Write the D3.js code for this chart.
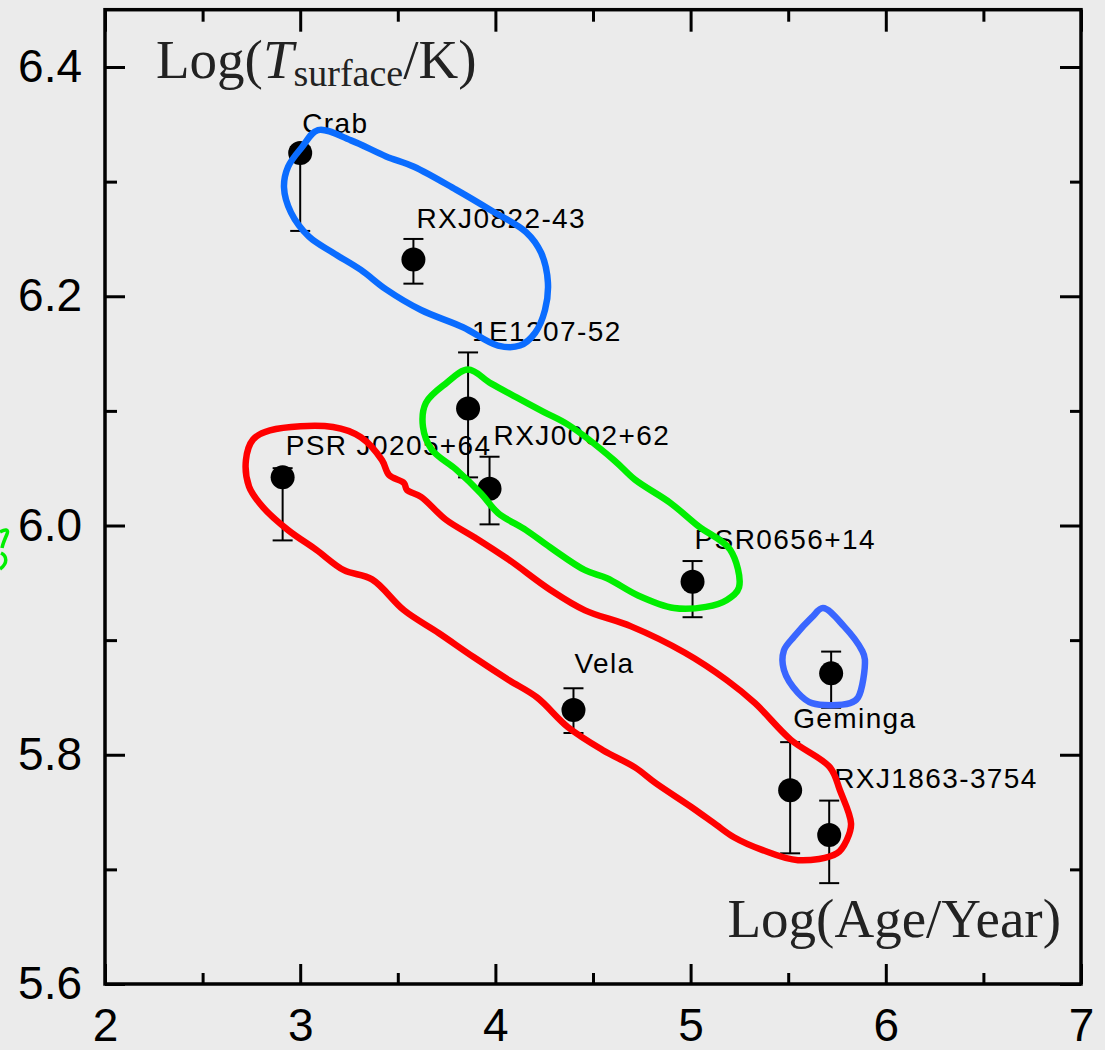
<!DOCTYPE html>
<html>
<head>
<meta charset="utf-8">
<script src="https://cdn.jsdelivr.net/npm/d3@7"></script>
<style>
  body { margin: 0; background: #ebebeb; }
  svg { display: block; }
  .tick text { font-family: "Liberation Sans", Arial, sans-serif; font-size: 46px; fill: #000; }
  .tick line { stroke-width: 3; }
  .src-label { font-family: "Liberation Sans", Arial, sans-serif; font-size: 28px; letter-spacing: 1.4px; fill: #000; }
  .axis-title { font-family: "Liberation Serif", "Times New Roman", serif; font-size: 55px; fill: #222; }
</style>
</head>
<body>
<div id="chart"></div>
<script>
// pulsar data: log age (yr), log surface temperature (K) with error range
var names = ["Crab", "RXJ0822-43", "1E1207-52", "PSR J0205+64", "RXJ0002+62",
  "PSR0656+14", "Vela", "Geminga", "", "RXJ1863-3754"];
var logAge = [3.00, 3.58, 3.86, 2.91, 3.97, 5.01, 4.40, 5.72, 5.51, 5.71];
var logT = [6.325, 6.232, 6.102, 6.042, 6.032, 5.951, 5.839, 5.871, 5.769, 5.730];
var errLow = [6.257, 6.211, 6.042, 5.987, 6.001, 5.920, 5.819, 5.841, 5.714, 5.688];
var errHigh = [6.330, 6.250, 6.151, 6.050, 6.060, 5.969, 5.858, 5.890, 5.811, 5.760];

// tick values
var xMajor = [2, 3, 4, 5, 6, 7];
var xMinor = [2.5, 3.5, 4.5, 5.5, 6.5];
var yMajor = [5.6, 5.8, 6.0, 6.2, 6.4];
var yMinor = [5.7, 5.9, 6.1, 6.3];

// hand drawn loops, [logAge, logT]
var blueLoop = [[3.091, 6.345], [3.260, 6.336], [3.440, 6.322], [3.583, 6.313], [3.798, 6.293],
  [3.977, 6.275], [4.157, 6.256], [4.234, 6.238], [4.269, 6.212], [4.254, 6.188], [4.203, 6.168],
  [4.126, 6.157], [4.013, 6.157], [3.834, 6.173], [3.619, 6.188], [3.440, 6.206], [3.311, 6.223],
  [3.168, 6.238], [3.045, 6.252], [2.953, 6.273], [2.917, 6.295], [2.938, 6.313], [3.009, 6.330]];
var greenLoop = [[3.860, 6.136], [3.977, 6.124], [4.106, 6.112], [4.249, 6.099], [4.372, 6.088],
  [4.608, 6.057], [4.715, 6.040], [4.894, 6.020], [5.043, 5.999], [5.202, 5.979], [5.248, 5.946],
  [5.186, 5.935], [5.079, 5.929], [4.915, 5.928], [4.731, 5.939], [4.572, 5.954], [4.459, 5.961],
  [4.280, 5.981], [4.157, 5.996], [4.013, 6.011], [3.926, 6.028], [3.798, 6.049], [3.675, 6.066],
  [3.629, 6.086], [3.644, 6.107], [3.747, 6.124]];
var redLoop = [[2.845, 6.083], [3.168, 6.086], [3.311, 6.077], [3.419, 6.057], [3.455, 6.044],
  [3.532, 6.037], [3.547, 6.031], [3.619, 6.025], [3.747, 6.005], [3.890, 5.990], [4.070, 5.970],
  [4.280, 5.944], [4.459, 5.926], [4.695, 5.912], [4.971, 5.889], [5.186, 5.865], [5.330, 5.845],
  [5.514, 5.813], [5.714, 5.789], [5.765, 5.769], [5.822, 5.740], [5.801, 5.726], [5.750, 5.714],
  [5.550, 5.708], [5.366, 5.717], [5.222, 5.728], [5.130, 5.739], [5.007, 5.754], [4.823, 5.775],
  [4.715, 5.789], [4.551, 5.804], [4.372, 5.824], [4.213, 5.850], [4.070, 5.865], [3.890, 5.885],
  [3.711, 5.906], [3.532, 5.926], [3.368, 5.953], [3.224, 5.961], [3.081, 5.979], [2.938, 5.996],
  [2.809, 6.016], [2.738, 6.034], [2.722, 6.057], [2.758, 6.075]];
var gemingaLoop = [[5.678, 5.928], [5.786, 5.912], [5.878, 5.891], [5.893, 5.883], [5.858, 5.850],
  [5.817, 5.845], [5.622, 5.845], [5.550, 5.854], [5.478, 5.874], [5.478, 5.891], [5.530, 5.903],
  [5.622, 5.920]];

// label placement (pixels from the point)
var labelOffsets = [[2, -20], [3, -32], [4, -68], [3, -22], [4, -44],
  [2, -33], [1, -37], [-38, 55], [0, 0], [5, -47]];

var svgWidth = 1105;
var svgHeight = 1050;

var margin = { top: 9.7, right: 24, bottom: 66, left: 105 };
var width = svgWidth - margin.left - margin.right;
var height = svgHeight - margin.top - margin.bottom;

var svg = d3.select("#chart")
  .append("svg")
  .attr("width", svgWidth)
  .attr("height", svgHeight);

svg.append("rect")
  .attr("width", svgWidth)
  .attr("height", svgHeight)
  .attr("fill", "#ebebeb");

var chartGroup = svg.append("g")
  .attr("transform", `translate(${margin.left}, ${margin.top})`);

var xScale = d3.scaleLinear().domain([2, 7]).range([0, width]);
var yScale = d3.scaleLinear().domain([5.6, 6.45]).range([height, 0]);

function cleanAxis(g) {
  g.select(".domain").remove();
  g.selectAll(".tick line").attr("stroke", "#000").attr("stroke-width", 3);
}

// bottom axis
chartGroup.append("g")
  .attr("transform", `translate(0, ${height})`)
  .call(d3.axisBottom(xScale).tickValues(xMajor).tickSizeInner(-20).tickSizeOuter(0)
    .tickPadding(24).tickFormat(d3.format("d")))
  .call(cleanAxis);
chartGroup.append("g")
  .attr("transform", `translate(0, ${height})`)
  .call(d3.axisBottom(xScale).tickValues(xMinor).tickSizeInner(-11).tickSizeOuter(0).tickFormat(""))
  .call(cleanAxis);

// top axis
chartGroup.append("g")
  .call(d3.axisTop(xScale).tickValues(xMajor).tickSizeInner(-22).tickSizeOuter(0).tickFormat(""))
  .call(cleanAxis);
chartGroup.append("g")
  .call(d3.axisTop(xScale).tickValues(xMinor).tickSizeInner(-12).tickSizeOuter(0).tickFormat(""))
  .call(cleanAxis);

// left axis
chartGroup.append("g")
  .call(d3.axisLeft(yScale).tickValues(yMajor).tickSizeInner(-20).tickSizeOuter(0)
    .tickPadding(23).tickFormat(d3.format(".1f")))
  .call(cleanAxis);
chartGroup.append("g")
  .call(d3.axisLeft(yScale).tickValues(yMinor).tickSizeInner(-12).tickSizeOuter(0).tickFormat(""))
  .call(cleanAxis);

// right axis
chartGroup.append("g")
  .attr("transform", `translate(${width}, 0)`)
  .call(d3.axisRight(yScale).tickValues(yMajor).tickSizeInner(-21).tickSizeOuter(0).tickFormat(""))
  .call(cleanAxis);
chartGroup.append("g")
  .attr("transform", `translate(${width}, 0)`)
  .call(d3.axisRight(yScale).tickValues(yMinor).tickSizeInner(-11).tickSizeOuter(0).tickFormat(""))
  .call(cleanAxis);

// frame
chartGroup.append("rect")
  .attr("width", width)
  .attr("height", height)
  .attr("fill", "none")
  .attr("stroke", "#000")
  .attr("stroke-width", 3.5);

// axis titles
var yTitle = chartGroup.append("text")
  .attr("class", "axis-title")
  .attr("x", 51)
  .attr("y", 68);
yTitle.append("tspan").text("Log(");
yTitle.append("tspan").attr("font-style", "italic").text("T");
yTitle.append("tspan").attr("font-size", "38px").attr("dy", 8).text("surface");
yTitle.append("tspan").attr("dy", -8).text("/K)");

chartGroup.append("text")
  .attr("class", "axis-title")
  .attr("x", width - 20)
  .attr("y", 927)
  .attr("text-anchor", "end")
  .text("Log(Age/Year)");

var pulsars = names.map(function(n, i) {
  return { name: n, age: logAge[i], t: logT[i], lo: errLow[i], hi: errHigh[i], off: labelOffsets[i] };
});

// error bars
var errGroup = chartGroup.selectAll(".err")
  .data(pulsars)
  .enter()
  .append("g")
  .attr("class", "err")
  .attr("stroke", "#000")
  .attr("stroke-width", 2);

errGroup.append("line")
  .attr("x1", d => xScale(d.age))
  .attr("x2", d => xScale(d.age))
  .attr("y1", d => yScale(d.lo))
  .attr("y2", d => yScale(d.hi));
errGroup.append("line")
  .attr("x1", d => xScale(d.age) - 10)
  .attr("x2", d => xScale(d.age) + 10)
  .attr("y1", d => yScale(d.lo))
  .attr("y2", d => yScale(d.lo));
errGroup.append("line")
  .attr("x1", d => xScale(d.age) - 10)
  .attr("x2", d => xScale(d.age) + 10)
  .attr("y1", d => yScale(d.hi))
  .attr("y2", d => yScale(d.hi));

// points
chartGroup.selectAll("circle.pt")
  .data(pulsars)
  .enter()
  .append("circle")
  .attr("class", "pt")
  .attr("cx", d => xScale(d.age))
  .attr("cy", d => yScale(d.t))
  .attr("r", 12)
  .attr("fill", "#000");

// labels
chartGroup.selectAll("text.src-label")
  .data(pulsars.filter(d => d.name !== ""))
  .enter()
  .append("text")
  .attr("class", "src-label")
  .attr("x", d => xScale(d.age) + d.off[0])
  .attr("y", d => yScale(d.t) + d.off[1])
  .text(d => d.name);

// hand drawn loops
var loopLine = d3.line()
  .x(d => xScale(d[0]))
  .y(d => yScale(d[1]))
  .curve(d3.curveCatmullRomClosed.alpha(0.5));

var loops = [
  { pts: redLoop, color: "#ff0000" },
  { pts: greenLoop, color: "#00ee00" },
  { pts: blueLoop, color: "#0a6cff" },
  { pts: gemingaLoop, color: "#3a66ff" }
];

chartGroup.selectAll("path.loop")
  .data(loops)
  .enter()
  .append("path")
  .attr("class", "loop")
  .attr("d", d => loopLine(d.pts))
  .attr("fill", "none")
  .attr("stroke", d => d.color)
  .attr("stroke-width", 6.5)
  .attr("stroke-linejoin", "round");

// green scribble stub at left edge
svg.append("path")
  .attr("d", "M0,532 C5,529 9,529 7,534 C5,539 3,543 2,548 M1,553 C7,556 8,563 0,569")
  .attr("fill", "none")
  .attr("stroke", "#00ee00")
  .attr("stroke-width", 3.5);
</script>
</body>
</html>
